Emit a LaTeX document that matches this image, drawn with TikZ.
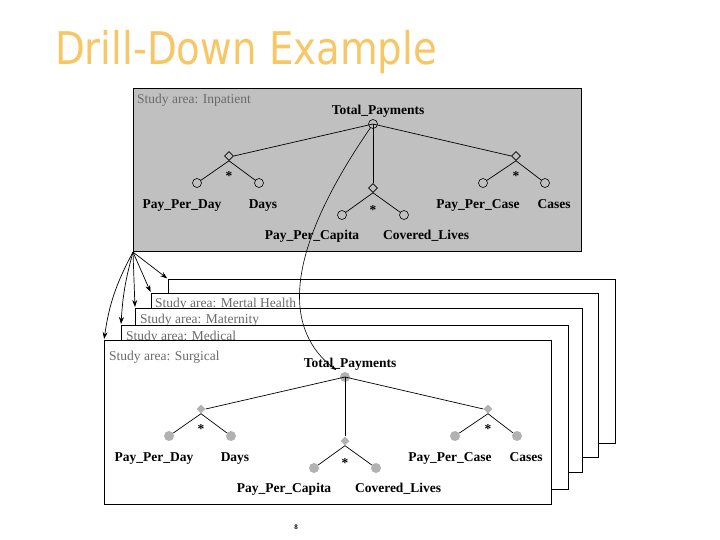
\documentclass[tikz,border=0pt]{standalone}
\usepackage{fontspec}
\setmainfont{Liberation Serif}
\newfontfamily\titlefont{DejaVu Sans}
\usetikzlibrary{arrows.meta,shapes.geometric}
\definecolor{boxgray}{HTML}{C0C0C0}
\definecolor{areagray}{HTML}{6A6A6A}
\definecolor{nodegray}{HTML}{B2B2B2}
\definecolor{titlecol}{HTML}{F8C765}
\newcommand{\DrillTree}[4]{%
\begin{scope}[shift={(#2,#3)}]
\node[lbl] (#1tp) at (378,111) {Total\_Payments};
\node[#4 root] (#1r) at (373,124) {};
\node[#4 dia] (#1da) at (229,156) {};
\node[#4 dia] (#1db) at (373,188) {};
\node[#4 dia] (#1dc) at (516,156) {};
\node[star] (#1sa) at (229,176) {*};
\node[star] (#1sb) at (373,210) {*};
\node[star] (#1sc) at (516,176) {*};
\node[#4 leaf] (#1la) at (197,183) {};
\node[#4 leaf] (#1lb) at (259,183) {};
\node[#4 leaf] (#1lc) at (342,215) {};
\node[#4 leaf] (#1ld) at (404,215) {};
\node[#4 leaf] (#1le) at (483,183) {};
\node[#4 leaf] (#1lf) at (545,183) {};
\node[lbl] (#1ta) at (182,205) {Pay\_Per\_Day};
\node[lbl] (#1tb) at (263,205) {Days};
\node[lbl] (#1tc) at (312,236) {Pay\_Per\_Capita};
\node[lbl] (#1td) at (426,236) {Covered\_Lives};
\node[lbl] (#1te) at (478,205) {Pay\_Per\_Case};
\node[lbl] (#1tf) at (554,205) {Cases};
\draw[edge] (#1r.center) -- (#1da.east);
\draw[edge] (#1r.center) -- (#1db.north);
\draw[edge] (#1r.center) -- (#1dc.west);
\draw[edge] (#1da.south) -- (#1la);
\draw[edge] (#1da.south) -- (#1lb);
\draw[edge] (#1db.south) -- (#1lc);
\draw[edge] (#1db.south) -- (#1ld);
\draw[edge] (#1dc.south) -- (#1le);
\draw[edge] (#1dc.south) -- (#1lf);
\end{scope}}
\begin{document}
\begin{tikzpicture}[x=1pt,y=-1pt,
  frame/.style={draw=black, line width=1.1pt, fill=white, anchor=north west, inner sep=0pt, minimum width=447pt, minimum height=164pt},
  lbl/.style={font=\fontsize{13.5}{15}\selectfont\bfseries, inner sep=0pt, text height=9.5pt, text depth=3pt},
  star/.style={font=\fontsize{13.5}{15}\selectfont\bfseries, inner sep=0pt},
  area/.style={font=\fontsize{13.5}{15}\selectfont, text=areagray, inner sep=0pt, anchor=west},
  edge/.style={draw=black, line width=0.7pt},
  top root/.style={circle, draw=black, line width=0.6pt, minimum size=9pt, inner sep=0pt},
  top dia/.style={diamond, draw=black, line width=0.6pt, minimum size=9pt, inner sep=0pt},
  top leaf/.style={circle, draw=black, line width=0.6pt, minimum size=9pt, inner sep=0pt},
  bot root/.style={circle, fill=nodegray, minimum size=10pt, inner sep=0pt},
  bot dia/.style={diamond, fill=nodegray, minimum size=9pt, inner sep=0pt},
  bot leaf/.style={circle, fill=nodegray, minimum size=10pt, inner sep=0pt},
  drill/.style={-{Stealth[length=7pt,width=5pt]}, line width=0.7pt, shorten >=1pt}]
\useasboundingbox (0,0) rectangle (720,540);
\node[anchor=base west, font=\titlefont\fontsize{45}{50}\selectfont, text=titlecol, inner sep=0pt, xscale=0.86] (title) at (55,65) {Drill-Down Example};
% top box
\node[frame, fill=boxgray, minimum width=448pt, minimum height=163pt] (inp) at (133,88) {};
\node[area] (inpl) at (137,100) {Study area: Inpatient};
\DrillTree{t}{0}{0}{top}
% stacked frames
\node[frame] (f5) at (168,279) {};
\node[frame] (f4) at (151,293) {};
\node[area] (f4l) at (155,304) {Study area: Mertal Health};
\node[frame] (f3) at (135,308) {};
\node[area] (f3l) at (140,320) {Study area: Maternity};
\node[frame] (f2) at (121,325) {};
\node[area] (f2l) at (126,337) {Study area: Medical};
\node[frame] (f1) at (104,340) {};
\node[area] (f1l) at (109,357) {Study area: Surgical};
\DrillTree{b}{-28}{253}{bot}
% drill arrows
\draw[drill] (inp.south west) -- (f5.north west);
\draw[drill] (inp.south west) -- (f4.north west);
\draw[drill] (inp.south west) -- (f3.north west);
\draw[drill] (inp.south west) to[bend right=6] (f2.north west);
\draw[drill] (inp.south west) to[bend right=10] (f1.north west);
% drill curve
\draw[line width=0.6pt, -{Stealth[length=6pt,width=4pt]}, shorten >=6pt] (tr) .. controls (300,230) and (272,320) .. (br);
\node[font=\fontsize{7}{8}\selectfont\bfseries, inner sep=0pt] (pg) at (296,527) {8};
\end{tikzpicture}
\end{document}
